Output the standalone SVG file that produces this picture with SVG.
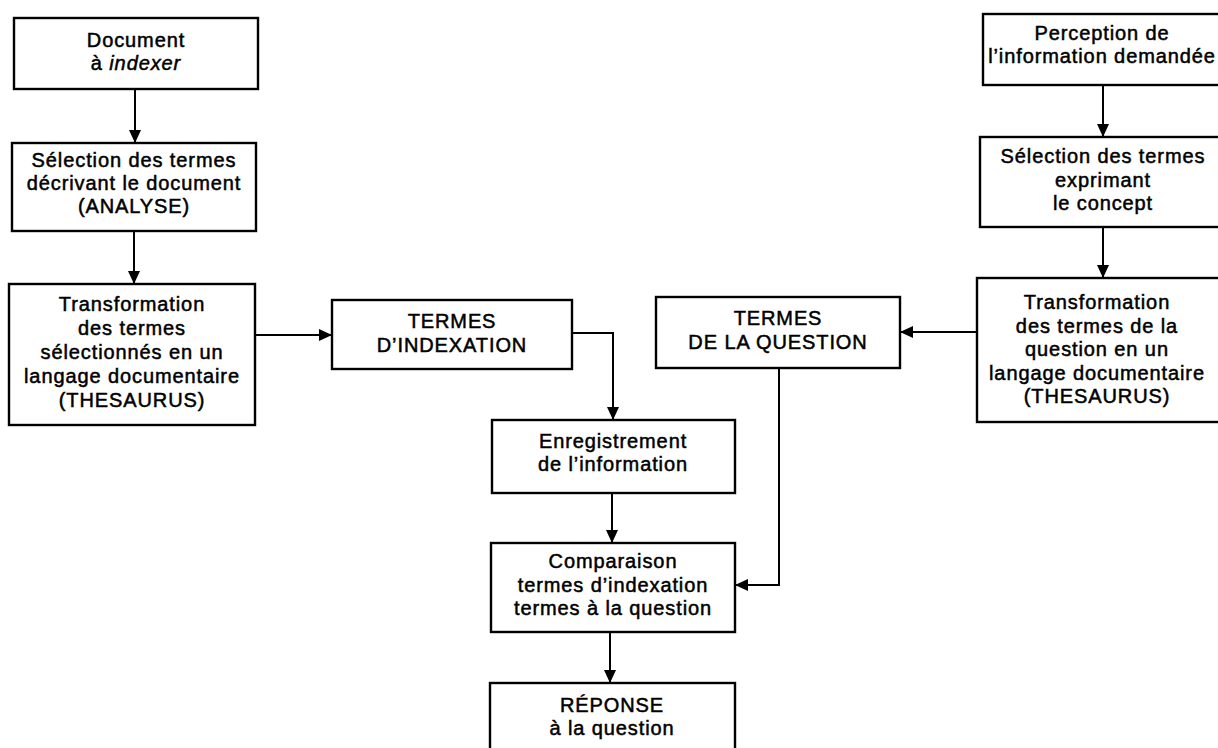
<svg xmlns="http://www.w3.org/2000/svg" width="1218" height="748" viewBox="0 0 1218 748">
<style>
.box{fill:#fff;stroke:#000;stroke-width:2.4}
.t{font-family:"Liberation Sans",Arial,sans-serif;font-size:20px;letter-spacing:0.9px;fill:#000;stroke:#000;stroke-width:0.5;text-anchor:middle}
.c{fill:none;stroke:#000;stroke-width:2}
</style>
<defs>
<marker id="ah" markerUnits="userSpaceOnUse" markerWidth="14" markerHeight="12" refX="13" refY="6" orient="auto">
<path d="M0,0 L13,6 L0,12 z" fill="#000"/>
</marker>
</defs>
<rect width="1218" height="748" fill="#fff"/>
<g id="connectors">
<path class="c" d="M135,89 V143" marker-end="url(#ah)"/>
<path class="c" d="M134,231 V284" marker-end="url(#ah)"/>
<path class="c" d="M256,335 H332" marker-end="url(#ah)"/>
<path class="c" d="M572,333 H613 V420" marker-end="url(#ah)"/>
<path class="c" d="M612,493 V543" marker-end="url(#ah)"/>
<path class="c" d="M779,368 V585 H735" marker-end="url(#ah)"/>
<path class="c" d="M610,632 V683" marker-end="url(#ah)"/>
<path class="c" d="M1103,85 V137" marker-end="url(#ah)"/>
<path class="c" d="M1103,227 V278" marker-end="url(#ah)"/>
<path class="c" d="M978,332 H900" marker-end="url(#ah)"/>
</g>
<g id="doc">
<rect class="box" x="14" y="18" width="244" height="71"/>
<text class="t" x="136" y="47">Document</text>
<text class="t" x="136" y="70">à <tspan font-style="italic">indexer</tspan></text>
</g>
<g id="selection-left">
<rect class="box" x="12" y="143" width="244" height="88"/>
<text class="t" x="134" y="167">Sélection des termes</text>
<text class="t" x="134" y="190">décrivant le document</text>
<text class="t" x="134" y="213">(ANALYSE)</text>
</g>
<g id="transformation-left">
<rect class="box" x="9" y="284" width="246" height="141"/>
<text class="t" x="132" y="311">Transformation</text>
<text class="t" x="132" y="335">des termes</text>
<text class="t" x="132" y="359">sélectionnés en un</text>
<text class="t" x="132" y="383">langage documentaire</text>
<text class="t" x="132" y="407">(THESAURUS)</text>
</g>
<g id="termes-indexation">
<rect class="box" x="332" y="300" width="240" height="69"/>
<text class="t" x="452" y="328">TERMES</text>
<text class="t" x="452" y="352">D’INDEXATION</text>
</g>
<g id="termes-question">
<rect class="box" x="656" y="297" width="244" height="71"/>
<text class="t" x="778" y="325">TERMES</text>
<text class="t" x="778" y="349">DE LA QUESTION</text>
</g>
<g id="enregistrement">
<rect class="box" x="492" y="420" width="243" height="73"/>
<text class="t" x="613" y="448">Enregistrement</text>
<text class="t" x="613" y="471">de l’information</text>
</g>
<g id="comparaison">
<rect class="box" x="491" y="543" width="244" height="89"/>
<text class="t" x="613" y="568">Comparaison</text>
<text class="t" x="613" y="592">termes d’indexation</text>
<text class="t" x="613" y="615">termes à la question</text>
</g>
<g id="reponse">
<rect class="box" x="490" y="683" width="245" height="80"/>
<text class="t" x="612" y="712">RÉPONSE</text>
<text class="t" x="612" y="735">à la question</text>
</g>
<g id="perception">
<rect class="box" x="983" y="14" width="250" height="71"/>
<text class="t" x="1102" y="40">Perception de</text>
<text class="t" x="1102" y="63">l’information demandée</text>
</g>
<g id="selection-right">
<rect class="box" x="980" y="137" width="250" height="90"/>
<text class="t" x="1103" y="163">Sélection des termes</text>
<text class="t" x="1103" y="187">exprimant</text>
<text class="t" x="1103" y="210">le concept</text>
</g>
<g id="transformation-right">
<rect class="box" x="977" y="278" width="253" height="144"/>
<text class="t" x="1097" y="309">Transformation</text>
<text class="t" x="1097" y="333">des termes de la</text>
<text class="t" x="1097" y="356">question en un</text>
<text class="t" x="1097" y="380">langage documentaire</text>
<text class="t" x="1097" y="403">(THESAURUS)</text>
</g>
</svg>
